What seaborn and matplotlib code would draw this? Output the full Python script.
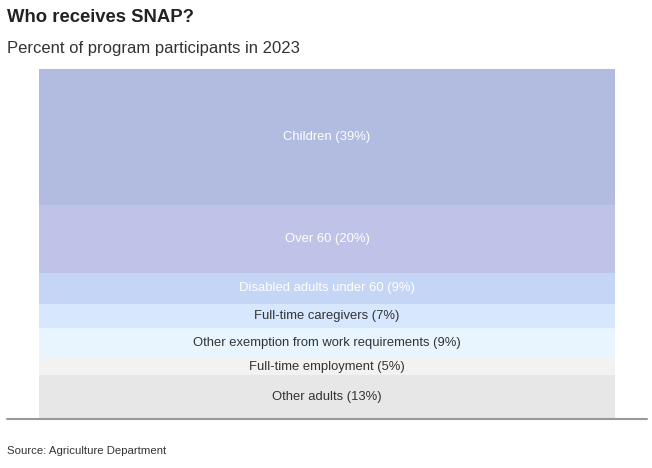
import matplotlib
matplotlib.use("Agg")
import matplotlib.pyplot as plt
from matplotlib.lines import Line2D
import seaborn as sns

# Data (top of stack first)
categories = ["Children", "Over 60", "Disabled adults under 60", "Full-time caregivers",
              "Other exemption from work requirements", "Full-time employment", "Other adults"]
values = [39.0, 19.5, 8.9, 6.9, 8.6, 4.9, 12.3]
labels = ["Children (39%)", "Over 60 (20%)", "Disabled adults under 60 (9%)",
          "Full-time caregivers (7%)", "Other exemption from work requirements (9%)",
          "Full-time employment (5%)", "Other adults (13%)"]
colors = ["#b2bbe0", "#c0c3e8", "#c5d5f6", "#d7e7fd", "#e9f5fe", "#f2f2f2", "#e7e7e7"]
text_colors = ["white", "white", "white", "#333333", "#333333", "#333333", "#333333"]

sns.set_theme(style="white")
plt.rcParams['font.family'] = ['Liberation Sans', 'DejaVu Sans']

fig = plt.figure(figsize=(6.52, 4.68), dpi=100)
W, H = 652, 468
ax = fig.add_axes([39 / W, (H - 418) / H, (615 - 39) / W, (418 - 69) / H])

total = sum(values)
tops = [sum(values[i:]) for i in range(len(values))]
bottoms = [sum(values[i + 1:]) for i in range(len(values))]

for top, col in zip(tops, colors):
    sns.barplot(x=["SNAP"], y=[top], color=col, width=1.0, ax=ax,
                saturation=1, linewidth=0, edgecolor="none")

for i, (lab, b, t, tc) in enumerate(zip(labels, bottoms, tops, text_colors)):
    ypos = (b + t) / 2
    ax.text(0, ypos, lab, ha="center", va="center", fontsize=9.4, color=tc,
            transform=ax.transData if i else ax.transData)

ax.set_xlim(-0.5, 0.5)
ax.set_ylim(0, total)
ax.axis("off")

# baseline
fig.add_artist(Line2D([7 / W, 647 / W], [(H - 418.5) / H] * 2, color="#999999", linewidth=1.5))

fig.text(7 / W, (H - 17) / H, "Who receives SNAP?", fontsize=13.3, fontweight="bold",
         color="#222222", ha="left", va="center")
fig.text(7 / W, (H - 48) / H, "Percent of program participants in 2023", fontsize=12,
         color="#333333", ha="left", va="center")
fig.text(7 / W, (H - 451) / H, "Source: Agriculture Department", fontsize=8.2,
         color="#333333", ha="left", va="center")

fig.savefig("out.png", dpi=100)
